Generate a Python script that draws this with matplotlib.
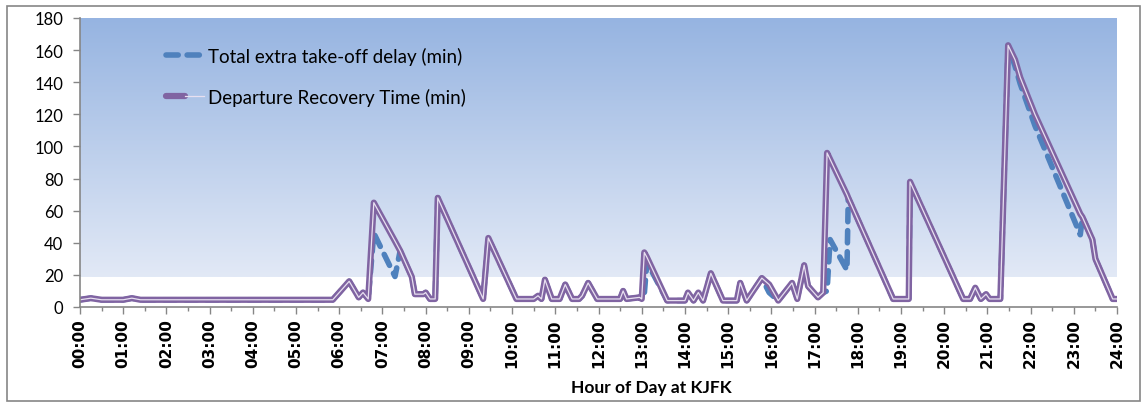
import numpy as np
import matplotlib
matplotlib.use("Agg")
import matplotlib.pyplot as plt
import matplotlib.lines as mlines
from matplotlib.patches import Rectangle
from matplotlib.ticker import MultipleLocator, FixedLocator
from matplotlib.legend_handler import HandlerTuple

# ---- data (hours of day, minutes) ----
hours = [0.0, 0.25, 0.5, 1.0, 1.2, 1.4, 2.0, 3.0, 4.0, 5.0, 5.85,
         6.23, 6.45, 6.55, 6.67, 6.8, 7.29, 7.41, 7.68, 7.75, 7.95, 8.0,
         8.1, 8.22, 8.28, 9.33, 9.45, 10.1, 10.5, 10.6, 10.68, 10.76,
         10.92, 11.1, 11.23, 11.39, 11.55, 11.62, 11.76, 11.97, 12.5,
         12.57, 12.65, 12.95, 13.0, 13.06, 13.12, 13.59, 14.0, 14.07,
         14.2, 14.31, 14.42, 14.6, 14.88, 15.2, 15.28, 15.43, 15.78,
         15.95, 16.16, 16.48, 16.6, 16.76, 16.85, 17.08, 17.2, 17.29,
         17.36, 17.75, 17.78, 18.82, 19.18, 19.21, 20.44, 20.6, 20.72,
         20.85, 20.97, 21.05, 21.3, 21.48, 21.64, 21.76, 22.1, 23.15,
         23.2, 23.43, 23.5, 23.9, 24.0]

recovery = [4.5, 5.5, 4.5, 4.5, 5.5, 4.5, 4.5, 4.5, 4.5, 4.5, 4.5,
            16, 6, 9, 5, 65, 41, 35, 18.7, 8, 8, 9,
            5, 5, 68, 5, 43, 5, 5, 7, 5, 17,
            5, 5, 14, 5, 5, 7, 15, 5, 5,
            10, 5, 6, 5, 34, 31, 4, 4, 9,
            4, 9, 4, 21, 4, 4, 15, 4, 18,
            14, 4, 15, 5, 26, 13, 6, 9, 96,
            92, 70, 68, 5, 5, 78, 5, 5, 12,
            5, 8, 5, 5, 163, 154, 143, 120, 58,
            56, 42, 30, 5, 5]

delay = [4.5, 5.5, 4.5, 4.5, 5.5, 4.5, 4.5, 4.5, 4.5, 4.5, 4.5,
         16, 6, 9, 5, 46, 19, 35, 18.7, 8, 8, 9,
         5, 5, 68, 5, 43, 5, 5, 7, 5, 17,
         5, 5, 14, 5, 5, 7, 15, 5, 5,
         10, 5, 6, 5, 8, 28, 4, 4, 9,
         4, 9, 4, 21, 4, 4, 15, 4, 18,
         9, 4, 15, 5, 26, 13, 6, 9, 10,
         42, 23, 68, 5, 5, 78, 5, 5, 12,
         5, 8, 5, 5, 163, 150, 139, 113, 45,
         56, 42, 30, 5, 5]

hour_labels = ["%02d:00" % h for h in range(25)]
y_ticks = list(range(0, 181, 20))

# ---- figure ----
W, H = 1147, 406
fig = plt.figure(figsize=(W / 100, H / 100), dpi=100)
fig.patch.set_facecolor("white")

x0, x1, ytop, ybot = 80, 1117, 19, 308
ax = fig.add_axes([x0 / W, 1 - ybot / H, (x1 - x0) / W, (ybot - ytop) / H])
ax.set_xlim(0, 24)
ax.set_ylim(0, 180)

# gradient plot-area background
top = np.array([150, 180, 225]) / 255
bot = np.array([226, 233, 246]) / 255
n = 256
grad = np.linspace(0, 1, n)[:, None] * (bot - top)[None, :] + top[None, :]
grad = grad[:, None, :]
ax.imshow(grad, extent=[0, 24, 18.7, 180], aspect="auto", origin="upper",
          zorder=0, interpolation="bilinear")
ax.set_facecolor("white")

blue = "#4F81BD"
purple = "#8064A2"
inner = "#E8E0F0"

ax.plot(hours, delay, color=blue, lw=4, ls=(0, (2.2, 1.6)),
        dash_capstyle="round", solid_joinstyle="round", zorder=2)
ax.plot(hours, recovery, color=purple, lw=4.5, solid_joinstyle="round",
        solid_capstyle="round", zorder=3)
ax.plot(hours, recovery, color=inner, lw=0.9, solid_joinstyle="round",
        zorder=4)

# legend
h1 = mlines.Line2D([], [], color=blue, lw=4, ls=(0, (2.2, 1.6)),
                   dash_capstyle="round")
h2a = mlines.Line2D([], [], color=purple, lw=4.5, solid_capstyle="round")
h2b = mlines.Line2D([], [], color=inner, lw=0.9)
ax.legend([h1, (h2a, h2b)],
          ["Total extra take-off delay (min)", "Departure Recovery Time (min)"],
          handler_map={tuple: HandlerTuple(ndivide=None, pad=0)},
          loc="upper left", bbox_to_anchor=(0.083, 0.90), frameon=False,
          prop={"family": "Lato", "size": 13.5}, handlelength=2.0,
          handletextpad=0.25, labelspacing=1.22, borderpad=0,
          borderaxespad=0)

# axes styling
for s in ("top", "right"):
    ax.spines[s].set_visible(False)
for s in ("left", "bottom"):
    ax.spines[s].set_color("#868686")
    ax.spines[s].set_linewidth(1.2)
    ax.spines[s].set_zorder(5)

ax.set_yticks(y_ticks)
ax.tick_params(axis="y", direction="out", length=5, width=1, color="#868686",
               labelsize=12, pad=7)
for lab in ax.get_yticklabels():
    lab.set_fontfamily("Lato")

ax.xaxis.set_major_locator(FixedLocator(range(25)))
ax.xaxis.set_minor_locator(MultipleLocator(0.5))
ax.set_xticklabels(hour_labels, rotation=90, fontsize=11, fontweight="bold",
                   family="DejaVu Sans", va="top", ha="center")
ax.tick_params(axis="x", which="major", direction="out", length=5, width=1,
               color="#868686", pad=3)
ax.tick_params(axis="x", which="minor", direction="out", length=3, width=1,
               color="#868686")

fig.text(651 / W, 1 - 388 / H, "Hour of Day at KJFK", ha="center", va="center",
         fontsize=12.5, fontweight="bold", family="Lato")

# outer chart border
fig.add_artist(Rectangle((7 / W, 1 - 402 / H), (1140 - 7) / W, (402 - 7) / H,
                         transform=fig.transFigure, fill=False,
                         edgecolor="#868686", lw=1.2))

fig.savefig("out.png", dpi=100, facecolor="white")
